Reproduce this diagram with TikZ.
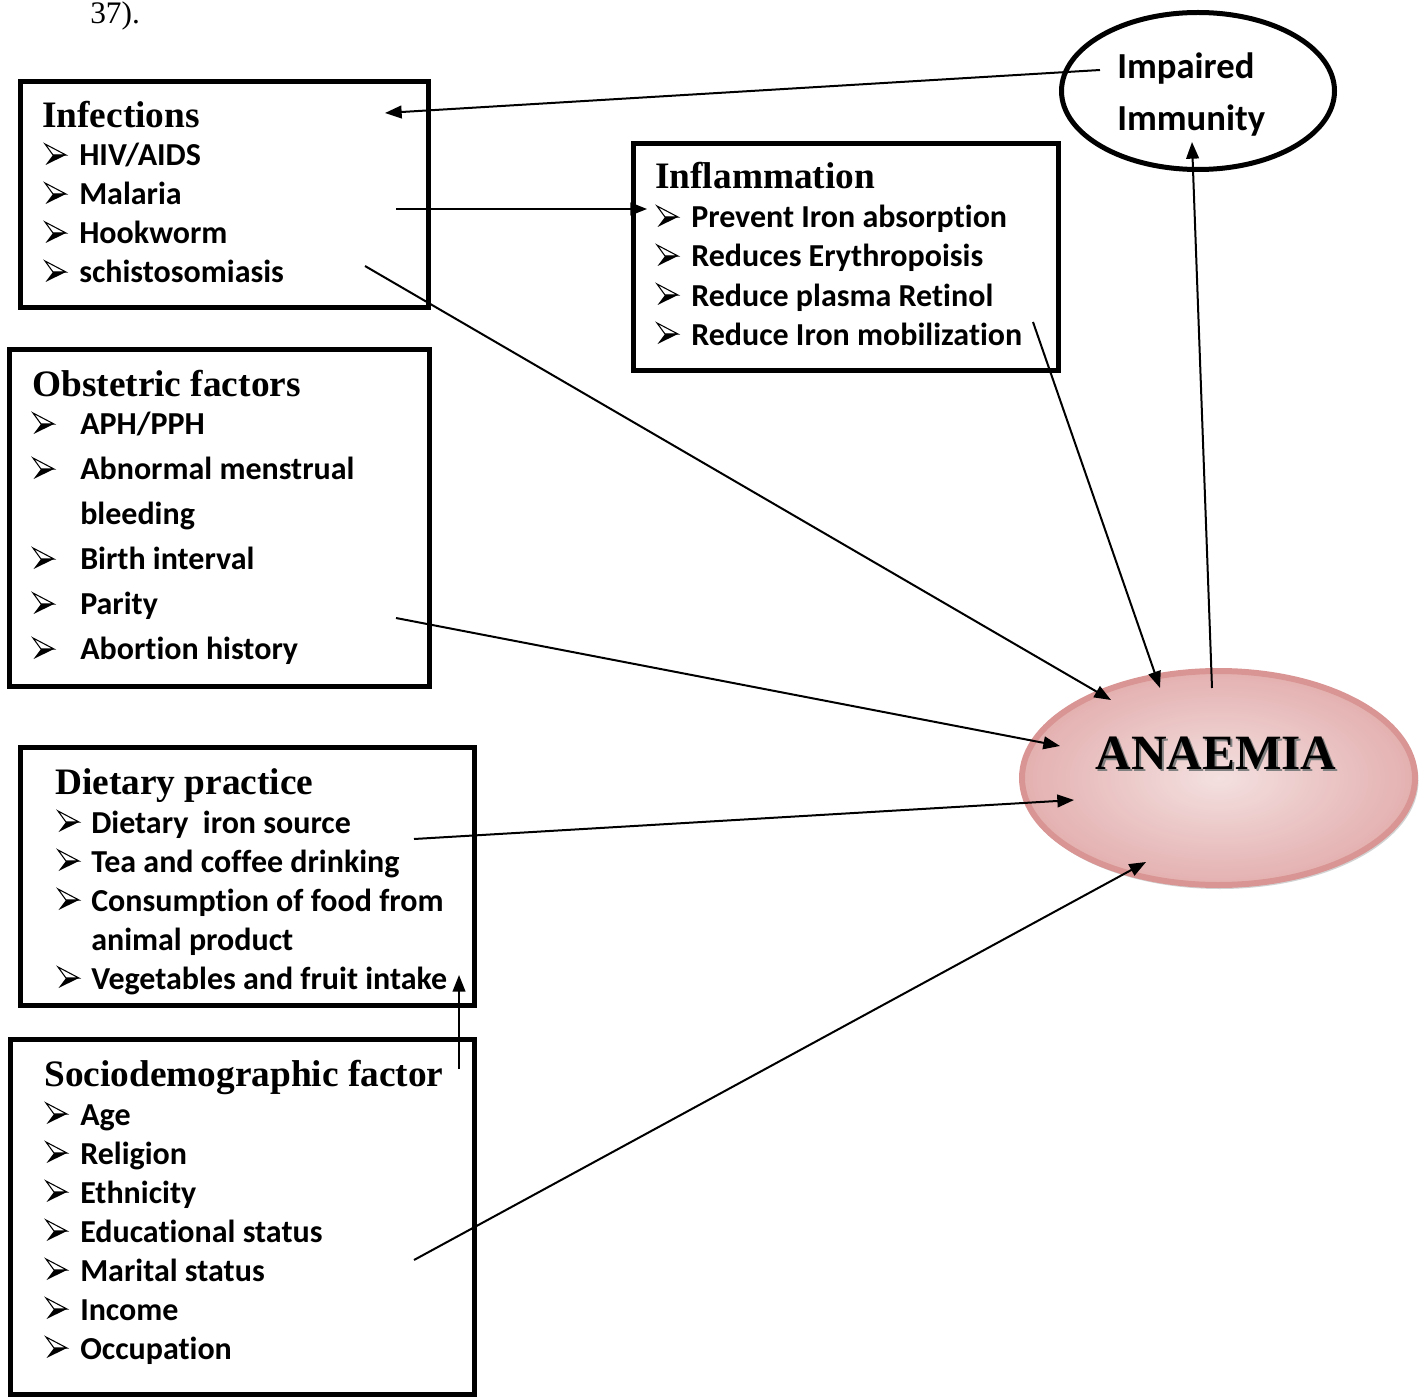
\documentclass[tikz,border=0pt]{standalone}
\usepackage{fontspec}
\setmainfont{Liberation Serif}
\newfontfamily\calib[Ligatures=CommonOff]{Carlito}
\usetikzlibrary{arrows.meta,shapes.geometric,fit}
\definecolor{pinkedge}{HTML}{D99594}
\definecolor{pinkin}{HTML}{F4E0E0}
\definecolor{pinkout}{HTML}{E4B0B0}
\begin{document}
\begin{tikzpicture}[x=0.75pt,y=-0.75pt,
 box/.style={draw, line width=3.75pt, inner sep=0pt, outer sep=0pt},
 ttl/.style={anchor=base west, inner sep=0pt, font=\fontsize{28}{30}\selectfont\bfseries},
 itm/.style={anchor=base west, inner sep=0pt, font=\calib\fontsize{24}{26}\selectfont\bfseries},
 arr/.style={line width=1.5pt, -{Triangle[length=12.5pt,width=9.5pt]}},
 bulpic/.pic={
   \draw[line width=0.8pt, line join=miter] (0,-22) -- (21,-11) -- (8,-11) -- cycle;
   \fill (8,-11) -- (21,-11) -- (0.5,-1) -- cycle;
 },
]
\useasboundingbox (0,0) rectangle (1428,1398);
\node[anchor=base west, inner sep=0pt, font=\fontsize{23.5}{26}\selectfont] (ref) at (90,24) {37).};

% ---------- boxes ----------
\coordinate (b1a) at (20.5,81.5);  \coordinate (b1b) at (428.5,307.5);
\node[box, fit=(b1a)(b1b)] (infbox) {};
\coordinate (b2a) at (633.5,143.5); \coordinate (b2b) at (1058.5,370.5);
\node[box, fit=(b2a)(b2b)] (inflbox) {};
\coordinate (b3a) at (9.5,349.5);  \coordinate (b3b) at (429.5,686.5);
\node[box, fit=(b3a)(b3b)] (obsbox) {};
\coordinate (b4a) at (20.5,747.5); \coordinate (b4b) at (474.5,1005.5);
\node[box, fit=(b4a)(b4b)] (dietbox) {};
\coordinate (b5a) at (10.5,1039.5); \coordinate (b5b) at (474.5,1394);
\node[box, fit=(b5a)(b5b)] (sociobox) {};

% ---------- Infections ----------
\node[ttl] (inft) at (42,128) {Infections};
\foreach \t [count=\i] in {HIV/AIDS, Malaria, Hookworm, schistosomiasis} {
  \pic at (45,{127+39*\i}) {bulpic};
  \node[itm] (inf\i) at (79,{127+39*\i}) {\t};
}

% ---------- Inflammation ----------
\node[ttl] (inflt) at (655,189) {Inflammation};
\foreach \t [count=\i] in {Prevent Iron absorption, Reduces Erythropoisis, Reduce plasma Retinol, Reduce Iron mobilization} {
  \pic at (657,{189+39*\i}) {bulpic};
  \node[itm] (infl\i) at (691,{189+39*\i}) {\t};
}

% ---------- Obstetric ----------
\node[ttl] (obst) at (32,396) {Obstetric factors};
\pic at (33,435) {bulpic}; \node[itm] (obs1) at (80,434) {APH/PPH};
\pic at (33,480) {bulpic}; \node[itm] (obs2) at (80,479) {Abnormal menstrual};
\node[itm] (obs2b) at (80,524) {bleeding};
\pic at (33,570) {bulpic}; \node[itm] (obs3) at (80,569) {Birth interval};
\pic at (33,615) {bulpic}; \node[itm] (obs4) at (80,614) {Parity};
\pic at (33,660) {bulpic}; \node[itm] (obs5) at (80,659) {Abortion history};

% ---------- Dietary ----------
\node[ttl] (dietT) at (55,794) {Dietary practice};
\pic at (58,833) {bulpic}; \node[itm] (diet1) at (91,833) {Dietary\ \ iron source};
\pic at (58,872) {bulpic}; \node[itm] (diet2) at (91,872) {Tea and coffee drinking};
\pic at (58,911) {bulpic}; \node[itm] (diet3) at (91,911) {Consumption of food from};
\node[itm] (diet3b) at (91,950) {animal product};
\pic at (58,989) {bulpic}; \node[itm] (diet4) at (91,989) {Vegetables and fruit intake};

% ---------- Sociodemographic ----------
\node[ttl] (sociot) at (44,1086) {Sociodemographic factor};
\foreach \t [count=\i] in {Age, Religion, Ethnicity, Educational status, Marital status, Income, Occupation} {
  \pic at (46,{1086+39*\i}) {bulpic};
  \node[itm] (soc\i) at (80,{1086+39*\i}) {\t};
}

% ---------- Impaired immunity ----------
\node[draw, ellipse, line width=3.75pt, inner sep=0pt, outer sep=0pt,
      minimum width=273*0.75pt, minimum height=157*0.75pt] (imm) at (1198,91) {};
\node[itm, font=\calib\fontsize{27.5}{30}\selectfont\bfseries] (immt1) at (1117,79) {Impaired};
\node[itm, font=\calib\fontsize{27.5}{30}\selectfont\bfseries] (immt2) at (1117,131) {Immunity};

% ---------- Anaemia ----------
\node[ellipse, fill=gray!35, inner sep=0pt, minimum width=397*0.75pt, minimum height=217*0.75pt] (anshadow) at (1220,780.5) {};
\node[ellipse, draw=pinkedge, line width=4.5pt, inner color=pinkin, outer color=pinkout,
      inner sep=0pt, outer sep=0pt, minimum width=393*0.75pt, minimum height=214*0.75pt] (anaemia) at (1218.5,778) {};
\node[text=gray, font=\fontsize{37}{40}\selectfont\bfseries] (antext2) at (1218,755) {ANAEMIA};
\node[font=\fontsize{37}{40}\selectfont\bfseries] (antext) at (1216,753) {ANAEMIA};

% ---------- connectors ----------
\coordinate (c1s) at (1100,70);  \coordinate (c1e) at (385,113);
\draw[arr] (c1s) -- (c1e);
\coordinate (c2s) at (396,209);  \coordinate (c2e) at (647,209);
\draw[arr] (c2s) -- (c2e);
\coordinate (c3s) at (365,266);  \coordinate (c3e) at (1111,700);
\draw[arr] (c3s) -- (c3e);
\coordinate (c4s) at (1033,322); \coordinate (c4e) at (1160,688);
\draw[arr] (c4s) -- (c4e);
\coordinate (c5s) at (1212,688); \coordinate (c5e) at (1192,142);
\draw[arr] (c5s) -- (c5e);
\coordinate (c6s) at (396,618);  \coordinate (c6e) at (1060,746);
\draw[arr] (c6s) -- (c6e);
\coordinate (c7s) at (414,839);  \coordinate (c7e) at (1074,800);
\draw[arr] (c7s) -- (c7e);
\coordinate (c8s) at (459,1069); \coordinate (c8e) at (459,975);
\draw[arr] (c8s) -- (c8e);
\coordinate (c9s) at (414,1260); \coordinate (c9e) at (1146,862);
\draw[arr] (c9s) -- (c9e);
\end{tikzpicture}
\end{document}
